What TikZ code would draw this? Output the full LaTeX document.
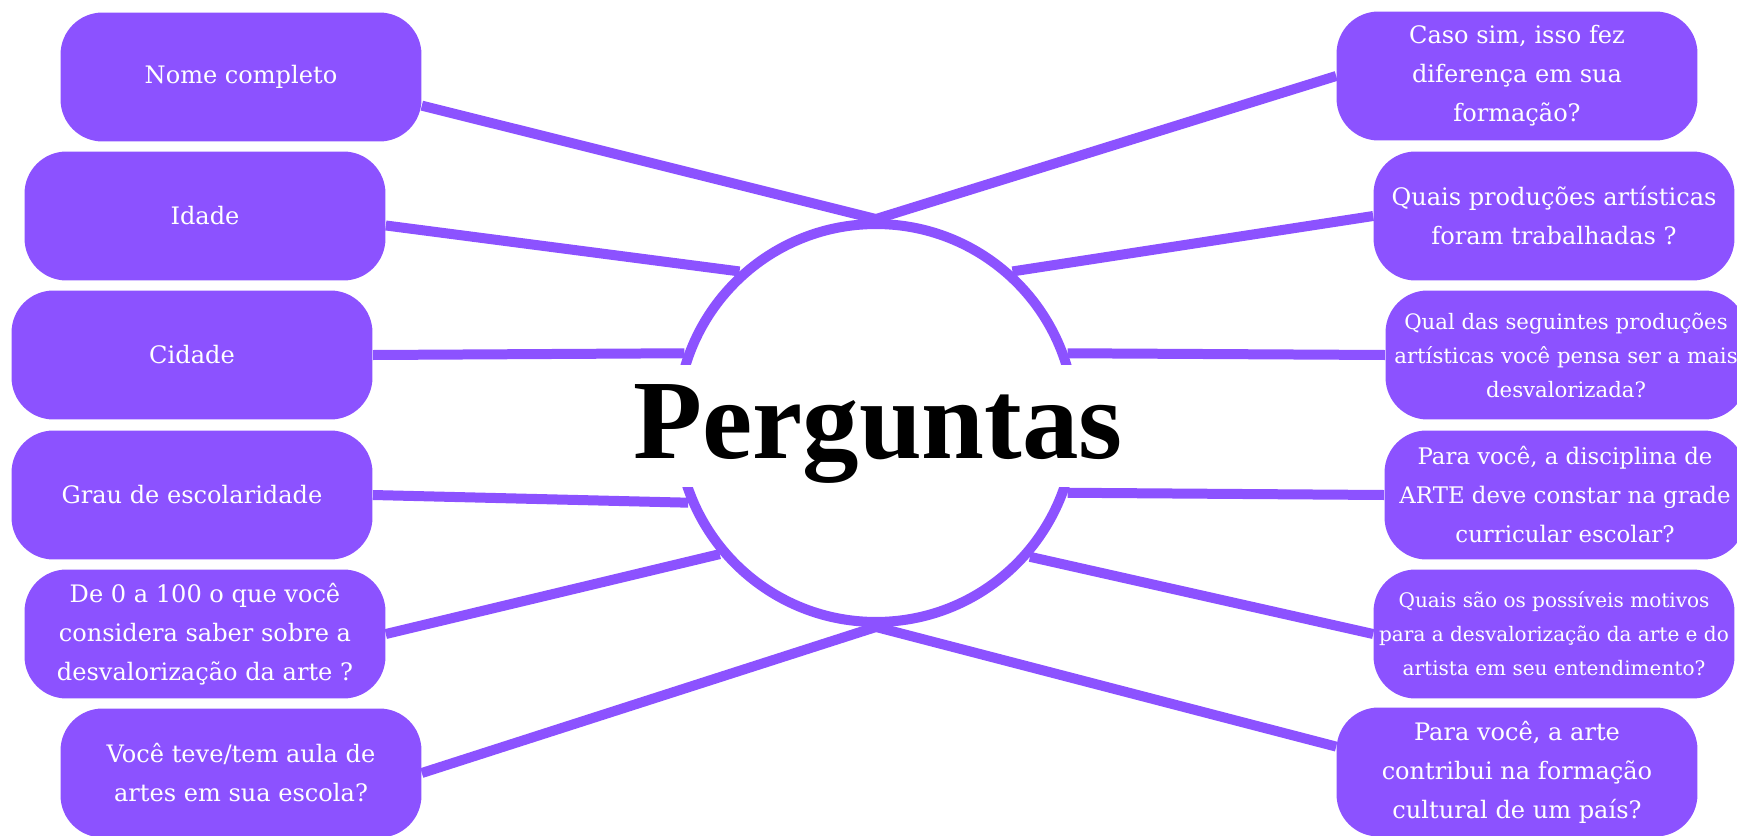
\documentclass[tikz,border=0pt]{standalone}
\usepackage{fontspec}
\setmainfont{DejaVu Serif}
\newfontfamily\titlefont{Liberation Serif}
\usetikzlibrary{backgrounds}
\definecolor{roxo}{HTML}{8C52FF}

\begin{document}
\begin{tikzpicture}[x=0.02cm, y=-0.02cm,
  pergunta/.style={rectangle, rounded corners=0.84cm, fill=roxo, text=white,
    minimum width=7.22cm, minimum height=2.58cm, inner sep=0pt, align=center,
    font=\fontsize{13.7}{22.2}\selectfont},
  pequena/.style={pergunta, font=\fontsize{12.1}{19.3}\selectfont},
  ligacao/.style={draw=roxo, line width=0.2cm}]
  \useasboundingbox (0, 0) rectangle (1737, 835);

  \node[circle, draw=roxo, line width=0.2cm, minimum size=7.96cm, inner sep=0pt] (q) at (876, 423) {};

  \node[pergunta] (nome) at (241, 77) {Nome completo};
  \node[pergunta] (idade) at (205, 216) {Idade};
  \node[pergunta] (cidade) at (192, 355) {Cidade};
  \node[pergunta] (grau) at (192, 495) {Grau de escolaridade};
  \node[pergunta] (zero) at (205, 634) {De 0 a 100 o que você\\considera saber sobre a\\desvalorização da arte ?};
  \node[pergunta] (voce) at (241, 773) {Você teve/tem aula de\\artes em sua escola?};

  \node[pergunta] (caso) at (1517, 76) {Caso sim, isso fez\\diferença em sua\\formação?};
  \node[pergunta] (prod) at (1554, 216) {Quais produções artísticas\\foram trabalhadas ?};
  \node[pequena] (qual) at (1566, 355) {Qual das seguintes produções\\artísticas você pensa ser a mais\\desvalorizada?};
  \node[pergunta, font=\fontsize{13}{22.2}\selectfont] (disc) at (1565, 495) {Para você, a disciplina de\\ARTE deve constar na grade\\curricular escolar?};
  \node[pequena, font=\fontsize{11.4}{19.3}\selectfont] (motivos) at (1554, 634) {Quais são os possíveis motivos\\para a desvalorização da arte e do\\artista em seu entendimento?};
  \node[pergunta] (arte) at (1517, 772) {Para você, a arte\\contribui na formação\\cultural de um país?};

  \begin{scope}[on background layer]
    \draw[ligacao] (nome.-9) -- (q.north);
    \draw[ligacao] (idade.-3) -- (q.132);
    \draw[ligacao] (cidade.east) -- (q.160);
    \draw[ligacao] (grau.east) -- (q.203);
    \draw[ligacao] (zero.east) -- (q.220);
    \draw[ligacao] (voce.east) -- (q.south);
    \draw[ligacao] (caso.west) -- (q.north);
    \draw[ligacao] (prod.west) -- (q.48);
    \draw[ligacao] (qual.west) -- (q.20);
    \draw[ligacao] (disc.west) -- (q.-20);
    \draw[ligacao] (motivos.west) -- (q.-41);
    \draw[ligacao] (arte.172) -- (q.south);
  \end{scope}

  \node[anchor=base, fill=white, inner sep=0pt, text height=1.86cm, text depth=0.58cm,
    font=\titlefont\bfseries\fontsize{64.3}{70}\selectfont] (titulo) at (878, 458) {Perguntas};
\end{tikzpicture}
\end{document}
